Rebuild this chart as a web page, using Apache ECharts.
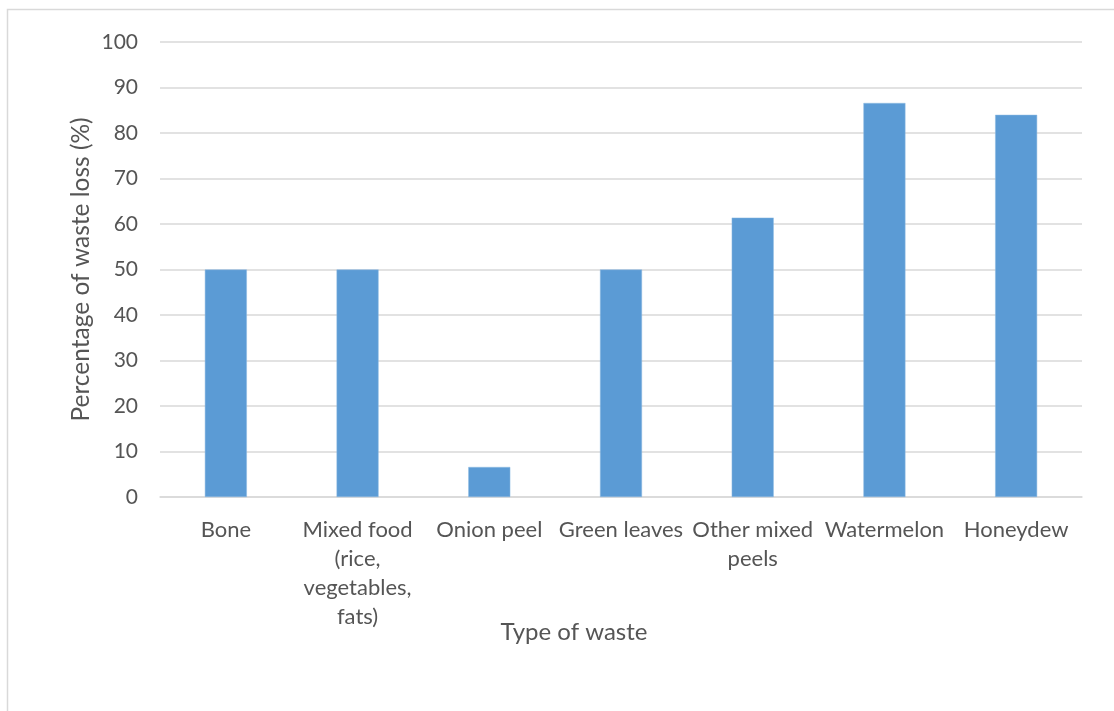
<!DOCTYPE html>
<html>
<head>
<meta charset="utf-8">
<script src="https://cdn.jsdelivr.net/npm/echarts@6/dist/echarts.min.js"></script>
<style>
  html, body { margin: 0; padding: 0; background: #ffffff; }
  #chart { width: 1114px; height: 711px; }
</style>
</head>
<body>
<div id="chart"></div>
<script>
// Waste categories (labels wrap onto several lines)
const categories = [
  'Bone',
  'Mixed food\n(rice,\nvegetables,\nfats)',
  'Onion peel',
  'Green leaves',
  'Other mixed\npeels',
  'Watermelon',
  'Honeydew'
];
// Percentage of waste loss per category
const wasteLoss = [50, 50, 6.6, 50, 61.4, 86.6, 84.0];
// Value axis range
const yMin = 0;
const yMax = 100;
const yStep = 10;

const textColor = '#555555';
const gridColor = '#d9d9d9';
const fontFamily = 'Lato, "Open Sans", sans-serif';

const chart = echarts.init(document.getElementById('chart'), null, { renderer: 'canvas' });

chart.setOption({
  backgroundColor: '#ffffff',
  animation: false,
  graphic: [{
    type: 'rect',
    silent: true,
    shape: { x: 7.5, y: 9.5, width: 1200, height: 800 },
    style: { fill: 'none', stroke: gridColor, lineWidth: 1.5 }
  }],
  grid: { left: 160, right: 32, top: 42, bottom: 214, containLabel: false },
  xAxis: {
    type: 'category',
    data: categories,
    name: 'Type of waste',
    nameLocation: 'middle',
    nameGap: 123,
    nameMoveOverlap: false,
    nameTextStyle: {
      color: textColor,
      fontSize: 24,
      fontFamily: fontFamily,
      // the title sits left of the plot centre
      padding: [0, 94, 0, 0]
    },
    axisLine: { show: true, lineStyle: { color: gridColor, width: 1.5 } },
    axisTick: { show: false },
    axisLabel: {
      color: textColor,
      fontSize: 22,
      fontFamily: fontFamily,
      lineHeight: 29,
      margin: 18,
      interval: 0
    }
  },
  yAxis: {
    type: 'value',
    min: yMin,
    max: yMax,
    interval: yStep,
    name: 'Percentage of waste loss (%)',
    nameLocation: 'middle',
    nameGap: 66,
    nameMoveOverlap: false,
    nameTextStyle: { color: textColor, fontSize: 24.5, fontFamily: fontFamily },
    axisLine: { show: false },
    axisTick: { show: false },
    axisLabel: { color: textColor, fontSize: 21, fontFamily: fontFamily, margin: 22 },
    splitLine: { show: true, lineStyle: { color: gridColor, width: 1.5 } }
  },
  series: [{
    type: 'bar',
    data: wasteLoss,
    barWidth: 42,
    itemStyle: { color: '#5b9bd5', borderColor: '#8fbbe3', borderWidth: 0.5 }
  }]
});
</script>
</body>
</html>
